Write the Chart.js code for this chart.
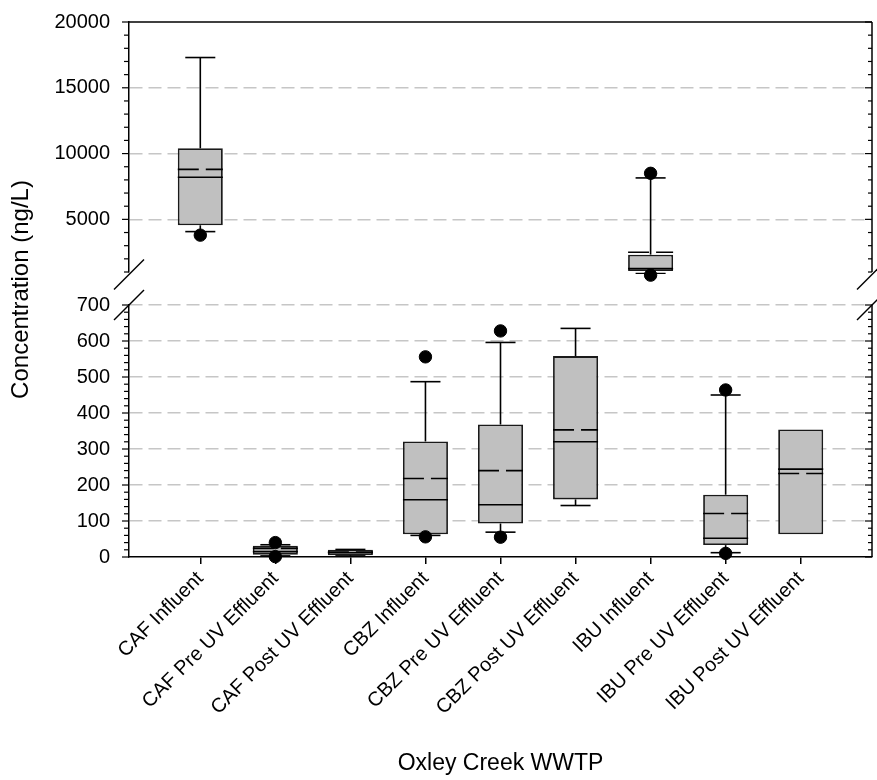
<!DOCTYPE html>
<html><head><meta charset="utf-8">
<script src="https://cdn.jsdelivr.net/npm/chart.js@4.4.1/dist/chart.umd.min.js"></script>
<style>
html,body{margin:0;padding:0;background:#fff;}
#wrap{position:relative;width:877px;height:780px;}
#wrap canvas{position:absolute;left:0;top:0;}
</style></head><body>
<div id="wrap"><canvas id="bot" width="877" height="780"></canvas><canvas id="top" width="877" height="780"></canvas></div>
<script>
// ---- data ----
const CATEGORIES = ['CAF Influent','CAF Pre UV Effluent','CAF Post UV Effluent','CBZ Influent','CBZ Pre UV Effluent','CBZ Post UV Effluent','IBU Influent','IBU Pre UV Effluent','IBU Post UV Effluent'];
const WHISKER_LOW  = [4070, 3, 3, 60, 69, 143, 880, 12, null];
const Q1           = [4550, 6, 5, 63, 93, 160, 1080, 33, 63];
const MEDIAN       = [8200, 15, 12, 159, 145, 320, 1260, 52, 244];
const MEAN         = [8800, 24, 14, 218, 240, 353, 2500, 121, 232];
const Q3           = [10400, 31, 20, 321, 368, 558, 2320, 173, 354];
const WHISKER_HIGH = [17300, 34, 21, 487, 596, 635, 8150, 450, null];
const OUTLIERS     = [[3800],[40,1],[],[556,56],[628,55],[],[8500,760],[464,10],[]];
const TOP_TICK_LABELS = [5000, 10000, 15000, 20000];
const BOTTOM_TICK_LABELS = [0, 100, 200, 300, 400, 500, 600, 700];
const TOP_RANGE = [1000, 20000];
const BOTTOM_RANGE = [0, 700];
const X_TITLE = 'Oxley Creek WWTP';
const Y_TITLE = 'Concentration (ng/L)';

Chart.defaults.font.family = "'Liberation Sans', Arial, sans-serif";
Chart.defaults.color = '#000';

const FONT_TICK = 20, FONT_XTICK = 20, FONT_XTITLE = 23, FONT_YTITLE = 24;

function boxData(){ return CATEGORIES.map((c,i)=>({x:i+1, y:[Q1[i], Q3[i]]})); }
function outlierData(lo, hi){
  const out=[];
  OUTLIERS.forEach((arr,i)=>arr.forEach(v=>{ if(v>lo && v<=hi) out.push({x:i+1,y:v}); }));
  return out;
}

let topChart = null;

function extras(panel){
  return {
    id:'extras_'+panel,
    afterDatasetsDraw(chart){
      const {ctx, chartArea:a, scales:{x,y}} = chart;
      const meta = chart.getDatasetMeta(0);
      ctx.save();
      ctx.beginPath(); ctx.rect(a.left, a.top-2, a.right-a.left, a.bottom-a.top+4); ctx.clip();
      ctx.strokeStyle='#000'; ctx.lineWidth=1.6;
      const line=(x1,y1,x2,y2)=>{ctx.beginPath();ctx.moveTo(x1,y1);ctx.lineTo(x2,y2);ctx.stroke();};
      CATEGORIES.forEach((c,i)=>{
        const el = meta.data[i];
        const cx = x.getPixelForValue(i+1);
        const hw = el.width/2, cap = hw*0.667;
        if (WHISKER_HIGH[i]!=null){
          const yq=y.getPixelForValue(Q3[i]), yw=y.getPixelForValue(WHISKER_HIGH[i]);
          line(cx,yq,cx,yw); line(cx-cap,yw,cx+cap,yw);
        }
        if (WHISKER_LOW[i]!=null){
          const yq=y.getPixelForValue(Q1[i]), yw=y.getPixelForValue(WHISKER_LOW[i]);
          line(cx,yq,cx,yw); line(cx-cap,yw,cx+cap,yw);
        }
        const ym=y.getPixelForValue(MEDIAN[i]); line(cx-hw,ym,cx+hw,ym);
        ctx.setLineDash([21,7]);
        const yn=y.getPixelForValue(MEAN[i]); line(cx-hw,yn,cx+hw,yn);
        ctx.setLineDash([]);
      });
      ctx.restore();
    },
    afterDraw(chart){
      const {ctx, chartArea:a, scales:{y}} = chart;
      const labels = panel==='top'?TOP_TICK_LABELS:BOTTOM_TICK_LABELS;
      ctx.save();
      ctx.strokeStyle='#000'; ctx.lineWidth=1.5;
      const line=(x1,y1,x2,y2)=>{ctx.beginPath();ctx.moveTo(x1,y1);ctx.lineTo(x2,y2);ctx.stroke();};
      line(a.right,a.top,a.right,a.bottom);
      if(panel==='top') line(a.left,a.top,a.right,a.top);
      ctx.lineWidth=1.2;
      y.ticks.forEach(t=>{
        const major = labels.includes(t.value);
        const py = y.getPixelForValue(t.value);
        line(a.left-(major?7:5),py,a.left,py);
        line(a.right,py,a.right-(major?7:4),py);
      });
      ctx.lineWidth=1.5;
      const y0 = panel==='top' ? a.bottom+2.5 : a.top;
      [a.left,a.right].forEach(xx=>line(xx-15,y0+15,xx+15,y0-15));
      if(panel==='bottom'){
        const t0 = topChart ? topChart.chartArea.top : 22;
        ctx.fillStyle='#000';
        ctx.font = FONT_YTITLE+"px 'Liberation Sans', Arial, sans-serif";
        ctx.textAlign='center'; ctx.textBaseline='middle';
        ctx.translate(21,(t0+a.bottom)/2); ctx.rotate(-Math.PI/2);
        ctx.fillText(Y_TITLE,0,0);
      }
      ctx.restore();
    }
  };
}

function makeChart(id, panel){
  const range = panel==='top'?TOP_RANGE:BOTTOM_RANGE;
  const labels = panel==='top'?TOP_TICK_LABELS:BOTTOM_TICK_LABELS;
  const step = panel==='top'?1000:20;
  const outs = panel==='top' ? outlierData(BOTTOM_RANGE[1], Infinity) : outlierData(-Infinity, BOTTOM_RANGE[1]);
  return new Chart(document.getElementById(id), {
    type:'bar',
    data:{datasets:[
      {type:'bar', data:boxData(), backgroundColor:'#c0c0c0', borderColor:'#1a1a1a', borderWidth:1.8,
       borderSkipped:false, barPercentage:0.6, categoryPercentage:1.0, order:2},
      {type:'scatter', data:outs, pointRadius:6.2, backgroundColor:'#000', borderColor:'#000',
       borderWidth:1, clip:false, order:1}
    ]},
    options:{
      responsive:false, animation:false, events:[],
      layout:{autoPadding:false, padding: panel==='top'?{top:22,right:5,bottom:508,left:0}:{top:305,right:5,bottom:0,left:0}},
      plugins:{legend:{display:false}, tooltip:{enabled:false}},
      scales:{
        x:{type:'linear', min:0.05, max:9.95, offset:false, display: panel!=='top',
           afterBuildTicks: s=>{ s.ticks = CATEGORIES.map((c,i)=>({value:i+1})); },
           afterFit: s=>{ if(panel!=='top') s.height = 223; },
           grid:{drawOnChartArea:false, offset:false, color:'#000', lineWidth:1.5, tickLength:7},
           border:{color:'#000', width:1.5},
           ticks:{autoSkip:false, minRotation:45, maxRotation:45, padding:3,
                  font:{size:FONT_XTICK}, callback: v => CATEGORIES[v-1] || ''},
           title:{display:true, text:X_TITLE, font:{size:FONT_XTITLE}, padding:{top:0,bottom:3}}
        },
        y:{type:'linear', min:range[0], max:range[1],
           afterFit: s=>{ s.width = 129; },
           ticks:{stepSize:step, autoSkip:false, padding:0, font:{size:FONT_TICK},
                  callback: v => labels.includes(v) ? String(v) : ''},
           grid:{drawTicks:true, tickLength:19, tickColor:'rgba(0,0,0,0)', lineWidth:1.5,
                 color: c => (c.tick && labels.includes(c.tick.value) && c.tick.value!==range[0] && (c.tick.value!==range[1] || panel==='bottom')) ? '#c6c6c6' : 'rgba(0,0,0,0)'},
           border:{color:'#000', width:1.5, dash:[13,6]}
        }
      }
    },
    plugins:[extras(panel)]
  });
}

topChart = makeChart('top','top');
makeChart('bot','bottom');
</script>
</body></html>
